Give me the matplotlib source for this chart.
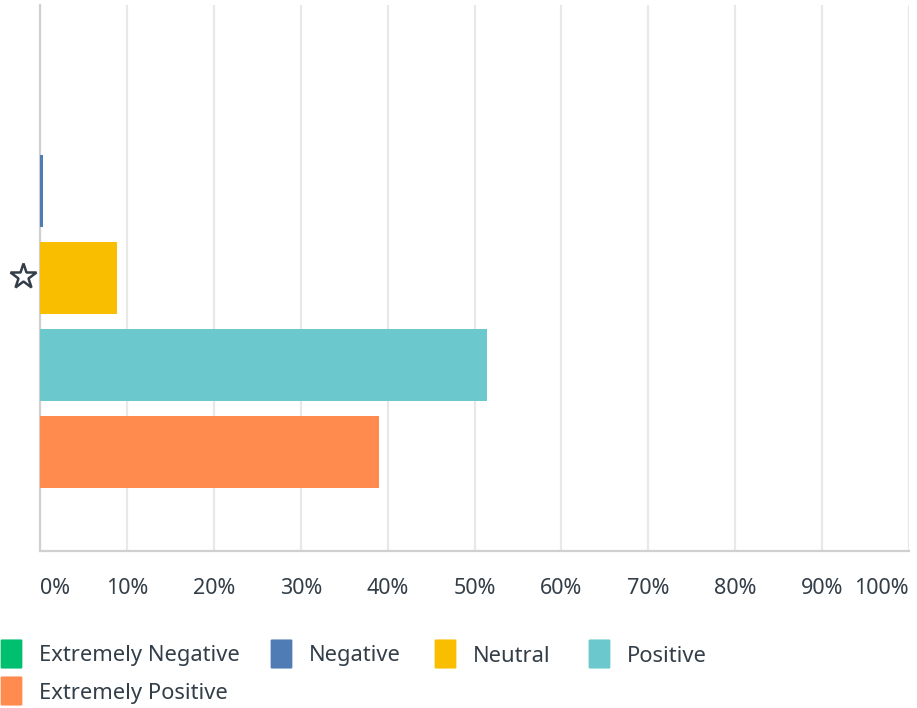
import matplotlib.pyplot as plt
from matplotlib.patches import FancyBboxPatch

categories = ["Extremely Negative", "Negative", "Neutral", "Positive", "Extremely Positive"]
values = [0.0, 0.35, 8.9, 51.4, 39.0]
colors = ["#00BF6F", "#507CB6", "#F9BE00", "#6BC8CD", "#FF8B4F"]
tick_values = list(range(0, 101, 10))
tick_labels = [f"{v}%" for v in tick_values]

W, H = 917, 708
fig = plt.figure(figsize=(W / 100, H / 100), dpi=100)
plt.rcParams['font.family'] = ['Noto Sans', 'DejaVu Sans']

left, right, top, bottom = 40, 909, 5, 551
ax = fig.add_axes([left / W, 1 - bottom / H, (right - left) / W, (bottom - top) / H])

positions = list(range(len(categories)))
ax.barh(positions, values, height=0.83, color=colors, zorder=3)
ax.set_ylim(5.14, -1.14)
ax.set_xlim(0, 100)

ax.set_xticks(tick_values)
ax.set_xticklabels([])
ax.tick_params(axis="x", length=0)
ax.set_yticks([])
ax.grid(axis="x", color="#e8e8e8", linewidth=1.6, zorder=0)
for side in ["top", "right"]:
    ax.spines[side].set_visible(False)
for side in ["left", "bottom"]:
    ax.spines[side].set_color("#d0d0d0")
    ax.spines[side].set_linewidth(1.6)

text_color = "#333e48"
for v, lab in zip(tick_values, tick_labels):
    ha = "center"
    if v == 0:
        ha = "left"
    elif v == 100:
        ha = "right"
    ax.text(v, -0.068, lab, transform=ax.get_xaxis_transform(), ha=ha, va="center",
            fontsize=15.5, color=text_color)

# star marker next to the group
ax.plot([-1.95], [1.98], marker="*", markersize=19, markerfacecolor="white",
        markeredgecolor=text_color, markeredgewidth=1.8, clip_on=False, zorder=5)

# legend
legend_pos = [(2, 654), (272, 654), (436, 654), (590, 654), (2, 691)]
for (px, py), lab, col in zip(legend_pos, categories, colors):
    box = FancyBboxPatch((px / W, 1 - (py + 13.5) / H), 19 / W, 27 / H,
                         boxstyle="round,pad=0.0015", transform=fig.transFigure,
                         facecolor=col, edgecolor="none")
    fig.patches.append(box)
    fig.text((px + 37) / W, 1 - (py + 2) / H, lab, ha="left", va="center",
             fontsize=15.8, color=text_color)

fig.savefig("out.png", dpi=100)
